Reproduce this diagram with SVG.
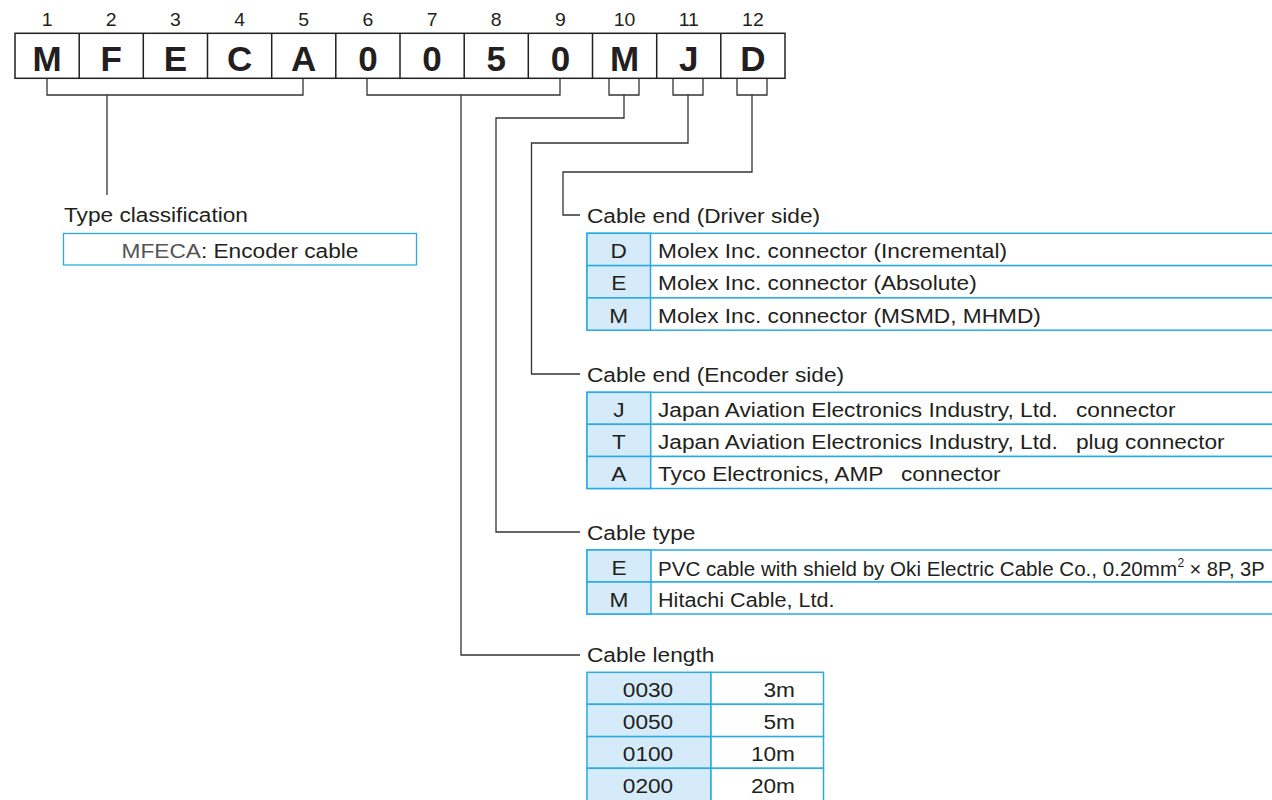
<svg xmlns="http://www.w3.org/2000/svg" width="1272" height="800" viewBox="0 0 1272 800">
<style>
.t{font-family:"Liberation Sans",Arial,Helvetica,sans-serif;font-size:21px;fill:#231f20}
.n{font-family:"Liberation Sans",Arial,Helvetica,sans-serif;font-size:18px;fill:#231f20}
.sup{font-family:"Liberation Sans",Arial,Helvetica,sans-serif;font-size:12px;fill:#231f20}
.b{font-family:"Liberation Sans",Arial,Helvetica,sans-serif;font-size:35px;font-weight:bold;fill:#231f20;text-anchor:middle}
.m{text-anchor:middle}
.cell{fill:#ffffff;stroke:#29abe2;stroke-width:1.5}
.key{fill:#d5ebf9;stroke:#29abe2;stroke-width:1.5}
.box{fill:#ffffff;stroke:#231f20;stroke-width:1.5}
.ln{fill:none;stroke:#333333;stroke-width:1.3}
</style>
<rect width="1272" height="800" fill="#ffffff"/>

<g id="code">
  <g id="positions">
    <text class="n m" transform="translate(47.1 26) scale(1.08 1)">1</text>
    <text class="n m" transform="translate(111.25 26) scale(1.08 1)">2</text>
    <text class="n m" transform="translate(175.4 26) scale(1.08 1)">3</text>
    <text class="n m" transform="translate(239.6 26) scale(1.08 1)">4</text>
    <text class="n m" transform="translate(303.75 26) scale(1.08 1)">5</text>
    <text class="n m" transform="translate(367.9 26) scale(1.08 1)">6</text>
    <text class="n m" transform="translate(432.1 26) scale(1.08 1)">7</text>
    <text class="n m" transform="translate(496.25 26) scale(1.08 1)">8</text>
    <text class="n m" transform="translate(560.4 26) scale(1.08 1)">9</text>
    <text class="n m" transform="translate(624.6 26) scale(1.08 1)">10</text>
    <text class="n m" transform="translate(688.75 26) scale(1.08 1)">11</text>
    <text class="n m" transform="translate(752.9 26) scale(1.08 1)">12</text>
  </g>
  <g id="boxes">
    <rect class="box" x="15" y="33.3" width="770" height="45"/>
    <path class="box" d="M79.2 33.3V78.3M143.3 33.3V78.3M207.5 33.3V78.3M271.7 33.3V78.3M335.8 33.3V78.3M400 33.3V78.3M464.2 33.3V78.3M528.3 33.3V78.3M592.5 33.3V78.3M656.7 33.3V78.3M720.8 33.3V78.3"/>
    <text class="b" x="47.1" y="71">M</text>
    <text class="b" x="111.25" y="71">F</text>
    <text class="b" x="175.4" y="71">E</text>
    <text class="b" x="239.6" y="71">C</text>
    <text class="b" x="303.75" y="71">A</text>
    <text class="b" x="367.9" y="71">0</text>
    <text class="b" x="432.1" y="71">0</text>
    <text class="b" x="496.25" y="71">5</text>
    <text class="b" x="560.4" y="71">0</text>
    <text class="b" x="624.6" y="71">M</text>
    <text class="b" x="688.75" y="71">J</text>
    <text class="b" x="752.9" y="71">D</text>
  </g>
</g>

<g id="connectors">
  <path class="ln" d="M47 78.3V95H303V78.3M107 95V195"/>
  <path class="ln" d="M367 78.3V95H560V78.3M461 95V655H580"/>
  <path class="ln" d="M609 78.3V95H639V78.3M624 95V118H496V532H580"/>
  <path class="ln" d="M673 78.3V95H703V78.3M688 95V143H531.5V374H580"/>
  <path class="ln" d="M737 78.3V95H767V78.3M752 95V172H563V215H580"/>
</g>

<g id="type-classification">
  <text class="t" transform="translate(64 222) scale(1.08 1)">Type classification</text>
  <rect x="63.5" y="233.5" width="353" height="31.5" fill="none" stroke="#29abe2" stroke-width="1.3"/>
  <text class="t m" transform="translate(240 258) scale(1.08 1)"><tspan fill="#555555">MFECA</tspan>: Encoder cable</text>
</g>

<g id="driver-side">
  <text class="t" transform="translate(587 223) scale(1.08 1)">Cable end (Driver side)</text>
  <rect class="cell" x="587" y="233.3" width="690" height="32.3"/>
  <rect class="cell" x="587" y="265.6" width="690" height="32.3"/>
  <rect class="cell" x="587" y="297.9" width="690" height="32.3"/>
  <rect class="key" x="587" y="233.3" width="63.5" height="32.3"/>
  <rect class="key" x="587" y="265.6" width="63.5" height="32.3"/>
  <rect class="key" x="587" y="297.9" width="63.5" height="32.3"/>
  <text class="t m" transform="translate(618.7 258) scale(1.08 1)">D</text>
  <text class="t m" transform="translate(618.7 290.3) scale(1.08 1)">E</text>
  <text class="t m" transform="translate(618.7 322.6) scale(1.08 1)">M</text>
  <text class="t" transform="translate(658 258) scale(1.08 1)">Molex Inc. connector (Incremental)</text>
  <text class="t" transform="translate(658 290.3) scale(1.08 1)">Molex Inc. connector (Absolute)</text>
  <text class="t" transform="translate(658 322.6) scale(1.08 1)">Molex Inc. connector (MSMD, MHMD)</text>
</g>

<g id="encoder-side">
  <text class="t" transform="translate(587 382) scale(1.08 1)">Cable end (Encoder side)</text>
  <rect class="cell" x="587" y="392.3" width="690" height="32"/>
  <rect class="cell" x="587" y="424.3" width="690" height="32.2"/>
  <rect class="cell" x="587" y="456.5" width="690" height="32"/>
  <rect class="key" x="587" y="392.3" width="63.7" height="32"/>
  <rect class="key" x="587" y="424.3" width="63.7" height="32.2"/>
  <rect class="key" x="587" y="456.5" width="63.7" height="32"/>
  <text class="t m" transform="translate(618.8 416.8) scale(1.08 1)">J</text>
  <text class="t m" transform="translate(618.8 449) scale(1.08 1)">T</text>
  <text class="t m" transform="translate(618.8 481) scale(1.08 1)">A</text>
  <text class="t" transform="translate(658 416.8) scale(1.08 1)">Japan Aviation Electronics Industry, Ltd.<tspan x="387">connector</tspan></text>
  <text class="t" transform="translate(658 449) scale(1.08 1)">Japan Aviation Electronics Industry, Ltd.<tspan x="387">plug connector</tspan></text>
  <text class="t" transform="translate(658 481) scale(1.08 1)">Tyco Electronics, AMP<tspan x="225">connector</tspan></text>
</g>

<g id="cable-type">
  <text class="t" transform="translate(587 540) scale(1.08 1)">Cable type</text>
  <rect class="cell" x="587" y="550" width="690" height="32"/>
  <rect class="cell" x="587" y="582" width="690" height="32"/>
  <rect class="key" x="587" y="550" width="64" height="32"/>
  <rect class="key" x="587" y="582" width="64" height="32"/>
  <text class="t m" transform="translate(619 575) scale(1.08 1)">E</text>
  <text class="t m" transform="translate(619 606.5) scale(1.08 1)">M</text>
  <text class="t" transform="translate(658 575.5) scale(0.98 1)">PVC cable with shield by Oki Electric Cable Co., 0.20mm</text>
  <text class="sup" x="1177.5" y="566.5">2</text>
  <text class="t" transform="translate(1189.5 575.5) scale(0.96 1)">× 8P, 3P</text>
  <text class="t" transform="translate(658 606.5) scale(1.03 1)">Hitachi Cable, Ltd.</text>
</g>

<g id="cable-length">
  <text class="t" transform="translate(587 662) scale(1.08 1)">Cable length</text>
  <rect class="key" x="587" y="672.3" width="124" height="32"/>
  <rect class="key" x="587" y="704.3" width="124" height="32.3"/>
  <rect class="key" x="587" y="736.6" width="124" height="31.7"/>
  <rect class="key" x="587" y="768.3" width="124" height="33"/>
  <rect class="cell" x="711" y="672.3" width="112.5" height="32"/>
  <rect class="cell" x="711" y="704.3" width="112.5" height="32.3"/>
  <rect class="cell" x="711" y="736.6" width="112.5" height="31.7"/>
  <rect class="cell" x="711" y="768.3" width="112.5" height="33"/>
  <text class="t m" transform="translate(648 697) scale(1.08 1)">0030</text>
  <text class="t m" transform="translate(648 729) scale(1.08 1)">0050</text>
  <text class="t m" transform="translate(648 761) scale(1.08 1)">0100</text>
  <text class="t m" transform="translate(648 793) scale(1.08 1)">0200</text>
  <text class="t" text-anchor="end" transform="translate(795 697) scale(1.08 1)">3m</text>
  <text class="t" text-anchor="end" transform="translate(795 729) scale(1.08 1)">5m</text>
  <text class="t" text-anchor="end" transform="translate(795 761) scale(1.08 1)">10m</text>
  <text class="t" text-anchor="end" transform="translate(795 793) scale(1.08 1)">20m</text>
</g>
</svg>
